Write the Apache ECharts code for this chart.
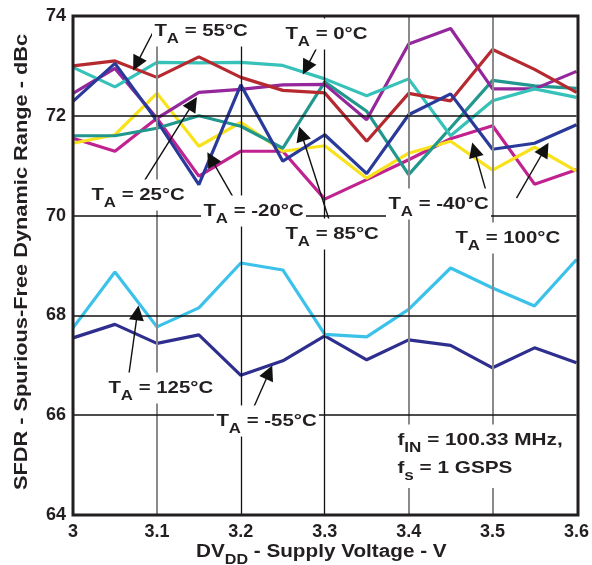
<!DOCTYPE html>
<html><head><meta charset="utf-8">
<script src="https://cdn.jsdelivr.net/npm/echarts@6/dist/echarts.min.js"></script>
<style>html,body{margin:0;padding:0;background:#fff}#c{width:592px;height:565px}</style>
</head><body><div id="c"></div>
<script>
// ---- data ----
const voltages = [3.0, 3.05, 3.1, 3.15, 3.2, 3.25, 3.3, 3.35, 3.4, 3.45, 3.5, 3.55, 3.6];
const sfdr55 = [73.0, 73.1, 72.77, 73.18, 72.77, 72.51, 72.46, 71.49, 72.45, 72.3, 73.33, 72.93, 72.47];
const sfdr0 = [72.97, 72.58, 73.07, 73.06, 73.07, 73.01, 72.74, 72.4, 72.74, 71.6, 72.3, 72.54, 72.37];
const sfdr25 = [72.45, 72.95, 71.95, 72.47, 72.53, 72.62, 72.63, 71.92, 73.44, 73.75, 72.54, 72.54, 72.89];
const sfdrM40 = [71.55, 71.29, 71.95, 70.79, 71.29, 71.29, 70.33, 70.72, 71.12, 71.54, 71.8, 70.63, 70.92];
const sfdr100 = [72.29, 73.05, 71.9, 70.62, 72.62, 71.09, 71.62, 70.84, 72.02, 72.44, 71.33, 71.45, 71.82];
const sfdrM20 = [71.45, 71.62, 72.45, 71.39, 71.87, 71.29, 71.4, 70.75, 71.25, 71.49, 70.91, 71.37, 70.89];
const sfdr85 = [71.6, 71.6, 71.75, 72.0, 71.79, 71.35, 72.68, 72.09, 70.82, 71.76, 72.71, 72.6, 72.55];
const sfdr125 = [67.75, 68.87, 67.77, 68.15, 69.05, 68.91, 67.62, 67.57, 68.12, 68.95, 68.55, 68.19, 69.12];
const sfdrM55 = [67.55, 67.82, 67.44, 67.61, 66.8, 67.09, 67.59, 67.11, 67.51, 67.4, 66.95, 67.35, 67.05];
const xGridValues = [3.1, 3.2, 3.3, 3.4, 3.5];
const yGridValues = [66, 68, 70, 72];

// ---- annotations (arrows in data coordinates) ----
const annotations = [
  {sub: 'A', rest: ' = 55°C', x: 152, y: 31, tail: [3.0998, 73.82], head: [3.0758, 73.04]},
  {sub: 'A', rest: ' = 0°C', x: 283, y: 34, tail: [3.2933, 73.45], head: [3.2780, 72.96]},
  {sub: 'A', rest: ' = 25°C', x: 89, y: 195, tail: [3.0796, 70.55], head: [3.1430, 72.25]},
  {sub: 'A', rest: ' = -20°C', x: 201, y: 211, tail: [3.1904, 70.38], head: [3.1645, 71.14]},
  {sub: 'A', rest: ' = 85°C', x: 283, y: 234, tail: [3.3072, 69.81], head: [3.2722, 71.64]},
  {sub: 'A', rest: ' = -40°C', x: 386, y: 204, tail: [3.4929, 70.45], head: [3.4782, 71.32]},
  {sub: 'A', rest: ' = 100°C', x: 453, y: 238, tail: [3.5285, 70.35], head: [3.5622, 71.33]},
  {sub: 'A', rest: ' = 125°C', x: 106, y: 388, tail: [3.0657, 66.71], head: [3.0768, 68.05]},
  {sub: 'A', rest: ' = -55°C', x: 214, y: 421, tail: [3.2122, 66.04], head: [3.2338, 66.86]}
];

const FONT = '"Liberation Sans", Arial, sans-serif';
const INK = '#231f20';
const pairs = arr => voltages.map((v, i) => [v, arr[i]]);

const seriesDefs = [
  {name: 'TA = -55°C', data: sfdrM55, color: '#2e2e8e'},
  {name: 'TA = 125°C', data: sfdr125, color: '#3bc2ea'},
  {name: 'TA = -40°C', data: sfdrM40, color: '#c0228f'},
  {name: 'TA = -20°C', data: sfdrM20, color: '#f8e21c'},
  {name: 'TA = 85°C', data: sfdr85, color: '#21978e'},
  {name: 'TA = 25°C', data: sfdr25, color: '#93279b'},
  {name: 'TA = 0°C', data: sfdr0, color: '#36c1b9'},
  {name: 'TA = 55°C', data: sfdr55, color: '#b5292f'},
  {name: 'TA = 100°C', data: sfdr100, color: '#2a3a9a'}
];

const richBase = {
  t: {fontSize: 17, fontWeight: 'bold', fontFamily: FONT, fill: INK},
  s: {fontSize: 14, fontWeight: 'bold', fontFamily: FONT, fill: INK, padding: [17, 0, 0, 0]}
};

function labelText(x, y, main, sub, rest, sx) {
  return {
    type: 'text', x: x, y: y, z: 100, scaleX: sx || 1.2,
    style: {
      text: '{t|' + main + '}{s|' + sub + '}{t|' + rest + '}',
      rich: richBase, align: 'left', verticalAlign: 'middle',
      backgroundColor: '#fff', padding: [0, 2, 0, 2]
    }
  };
}

const graphics = annotations.map(a => labelText(a.x, a.y, 'T', a.sub, a.rest));
graphics.push({type: 'rect', z: 90, shape: {x: 392, y: 428, width: 180, height: 60}, style: {fill: '#fff'}});
graphics.push(labelText(395, 440, 'f', 'IN', ' = 100.33 MHz,', 1.22));
graphics.push(labelText(395, 468, 'f', 's', ' = 1 GSPS', 1.22));
graphics.push({type: 'text', x: 22, y: 262, rotation: Math.PI / 2, z: 100, scaleX: 1.21,
  style: {text: 'SFDR - Spurious-Free Dynamic Range - dBc', font: 'bold 18px ' + FONT, fill: INK,
    align: 'center', verticalAlign: 'middle'}});
graphics.push({type: 'text', x: 196, y: 552, z: 100, scaleX: 1.15,
  style: {text: '{t|DV}{s|DD}{t| - Supply Voltage - V}', align: 'left', verticalAlign: 'middle',
    rich: {t: {fontSize: 18, fontWeight: 'bold', fontFamily: FONT, fill: INK},
           s: {fontSize: 14, fontWeight: 'bold', fontFamily: FONT, fill: INK, padding: [17, 0, 0, 0]}}}});
// plot frame on top
graphics.push({type: 'rect', z: 200, shape: {x: 73, y: 16, width: 505, height: 499},
  style: {fill: 'none', stroke: INK, lineWidth: 3}});

const series = seriesDefs.map(d => ({
  type: 'line', name: d.name, data: pairs(d.data), symbol: 'none', z: 3,
  lineStyle: {color: d.color, width: 3.2}, itemStyle: {color: d.color}, animation: false
}));

// grid lines
series.unshift({
  type: 'line', data: [], z: 1, silent: true, animation: false,
  markLine: {
    silent: true, symbol: ['none', 'none'], label: {show: false}, animation: false,
    data: xGridValues.map((v, i) => ({xAxis: v, lineStyle: {color: (i === 1 || i === 2) ? '#111' : '#8a8a8a', width: (i === 1 || i === 2) ? 1.3 : 2, type: 'solid'}}))
      .concat(yGridValues.map(v => ({yAxis: v, lineStyle: {color: '#111', width: 1.5, type: 'solid'}})))
  }
});

// arrows
series.push({
  type: 'line', data: [], z: 20, silent: true, animation: false,
  markLine: {
    silent: true, symbol: ['none', 'triangle'], symbolSize: 15, label: {show: false}, animation: false,
    lineStyle: {color: '#111', width: 1.4, type: 'solid'},
    itemStyle: {color: '#111'},
    data: annotations.map(a => [{coord: a.tail}, {coord: a.head}])
  }
});

const chart = echarts.init(document.getElementById('c'), null, {renderer: 'canvas'});
chart.setOption({
  animation: false,
  backgroundColor: '#fff',
  grid: {left: 73, top: 16, right: 14, bottom: 50, show: false},
  xAxis: {
    type: 'value', min: 3, max: 3.6, interval: 0.1,
    axisLine: {show: false}, axisTick: {show: false}, splitLine: {show: false},
    axisLabel: {fontSize: 18, fontWeight: 'bold', fontFamily: FONT, color: INK, margin: 8,
      formatter: v => String(+v.toFixed(1))}
  },
  yAxis: {
    type: 'value', min: 64, max: 74, interval: 2,
    axisLine: {show: false}, axisTick: {show: false}, splitLine: {show: false},
    axisLabel: {fontSize: 18, fontWeight: 'bold', fontFamily: FONT, color: INK, margin: 7}
  },
  series: series,
  graphic: graphics
});
</script></body></html>
